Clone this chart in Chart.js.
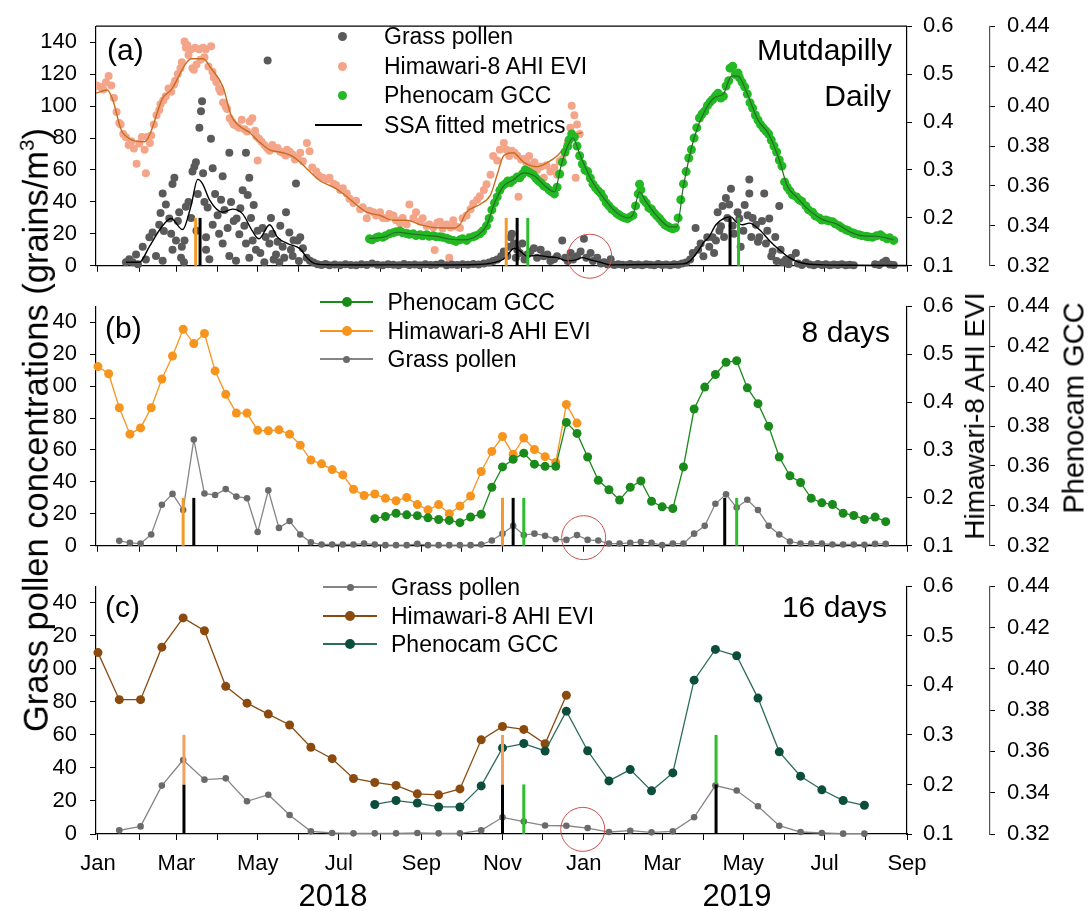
<!DOCTYPE html>
<html>
<head>
<meta charset="utf-8">
<script src="https://cdn.jsdelivr.net/npm/chart.js@4.4.1/dist/chart.umd.min.js"></script>
<style>
  body { margin: 0; background: #fff; }
  #wrap { position: relative; width: 1089px; height: 911px; overflow: hidden;
          font-family: Arial, "Liberation Sans", sans-serif; color: #000; }
  #wrap canvas { position: absolute; left: 0; }
</style>
</head>
<body>
<div id="wrap">
  <canvas id="pa" width="1089" height="292" style="top:0px"></canvas>
  <canvas id="pb" width="1089" height="292" style="top:280px"></canvas>
  <canvas id="pc" width="1089" height="351" style="top:560px"></canvas>
</div>
<script>
// Grass pollen vs Himawari-8 EVI vs Phenocam GCC at Mutdapilly
// x values are days counted from 1 Jan 2018

// ---- axis ticks ----
const monthDays = [0, 31, 59, 90, 120, 151, 181, 212, 243, 273, 304, 334, 365, 396, 424, 455, 485, 516, 546, 577, 608];
const monthLabels = ['Jan', '', 'Mar', '', 'May', '', 'Jul', '', 'Sep', '', 'Nov', '', 'Jan', '', 'Mar', '', 'May', '', 'Jul', '', 'Sep'];
const pollenTicks = [0, 20, 40, 60, 80, 100, 120, 140];
const eviTicks = [0.1, 0.2, 0.3, 0.4, 0.5, 0.6];
const gccTicks = [0.32, 0.34, 0.36, 0.38, 0.40, 0.42, 0.44];

// ---- (a) daily ----
const eviDay = [-1,2,4,6,8,10,12,14,16,17, 19,21,23,25,27,29,31,33,35,36, 37,39,40,42,44,46,47,49,51,53,
  55,57,58,60,62,63,65,66,67,68, 70,71,72,73,74,76,77,79,80,81, 83,85,86,87,89,91,92,94,96,97,
  99,101,102,104,106,108,110,112,114,116, 118,119,120,121,123,125,127,129,131,133, 135,137,139,141,142,144,146,148,150,152,
  154,157,159,161,164,166,169,172,174,177, 179,182,184,187,189,192,194,197,199,202, 204,207,209,212,214,217,219,222,224,227,
  229,232,234,237,239,242,244,247,249,252, 253,255,257,259,262,264,265,267,269,272, 274,277,280,282,285,287,290,292,295,297,
  300,302,305,307,309,311,313,315,316,318, 320,322,324,326,328,330,333,335,337,340, 343,345,347,349,351,353,355,356,358,359, 360,362];
const eviVal = [.476,.473,.468,.483,.496,.476,.450,.421,.398,.395, .375,.368,.352,.360,.345,.313,.355,.369,.342,.293, .369,.356,.372,.395,.414,.425,.437,.445,.454,.470,
  .463,.478,.486,.500,.512,.525,.568,.555,.561,.540, .552,.512,.509,.555,.520,.552,.530,.555,.535,.552, .516,.558,.505,.493,.483,.470,.463,.441,.432,.427,
  .408,.400,.395,.392,.388,.405,.385,.380,.401,.408, .382,.370,.320,.365,.359,.352,.346,.340,.352,.345, .346,.338,.336,.330,.342,.338,.333,.322,.326,.336,
  .318,.356,.339,.305,.297,.288,.284,.280,.284,.271, .268,.258,.262,.251,.240,.231,.236,.218,.222,.199, .215,.212,.205,.212,.200,.199,.208,.205,.195,.189,
  .200,.186,.228,.200,.212,.192,.199,.183,.186,.180, .133,.190,.192,.178,.186,.117,.180,.195,.182,.179, .199,.205,.218,.230,.238,.245,.258,.270,.290,.329,
  .320,.342,.356,.342,.329,.340,.336,.330,.244,.322, .323,.315,.329,.310,.316,.300,.307,.284,.310,.297, .305,.290,.318,.323,.336,.356,.388,.434,.414,.284, .395,.375];

const gccDay = [204,206,209,211,214,216,219,222,224,227, 229,232,234,237,239,242,244,247,249,252, 254,257,259,262,264,267,269,272,274,277,
  279,282,284,287,289,292,294,296,298,300, 302,304,306,308,310,312,315,317,319,321, 323,325,327,329,331,333,335,337,339,341,
  343,345,347,349,351,353,354,356,358,360, 362,364,366,368,370,372,374,376,378,380, 382,384,386,388,390,392,394,396,398,400,
  402,404,406,407,408,410,412,414,416,418, 420,422,424,426,428,430,432,434,436,438, 440,442,444,446,448,450,452,454,456,458,
  460,462,464,466,468,470,472,474,475,477, 479,481,482,484,486,488,490,492,494,496, 498,500,502,504,506,508,510,512,514,516,
  518,520,522,525,527,529,532,534,537,539, 542,544,547,549,552,554,557,559,562,564, 567,569,572,574,577,579,582,585,588,590, 593,595,598];
const gccVal = [.3335,.3330,.3340,.3345,.3343,.3350,.3360,.3366,.3370,.3374, .3365,.3362,.3358,.3360,.3352,.3355,.3350,.3356,.3348,.3351,
  .3346,.3345,.3343,.3338,.3332,.3327,.3322,.3330,.3335,.3327, .3340,.3345,.3351,.3360,.3374,.3400,.3437,.3480,.3515,.3545,
  .3578,.3600,.3610,.3625,.3617,.3630,.3645,.3641,.3660,.3680, .3672,.3665,.3656,.3640,.3625,.3615,.3600,.3594,.3580,.3570,
  .3560,.3594,.3660,.3719,.3770,.3798,.3830,.3860,.3845,.3800, .3751,.3710,.3680,.3672,.3640,.3609,.3590,.3575,.3562,.3540,
  .3515,.3500,.3484,.3475,.3462,.3453,.3445,.3440,.3437,.3445, .3453,.3500,.3560,.3609,.3580,.3531,.3515,.3490,.3484,.3465,
  .3450,.3437,.3420,.3405,.3398,.3390,.3385,.3390,.3440,.3531, .3610,.3672,.3740,.3782,.3840,.3892,.3940,.3960,.3975,.4002,
  .4020,.4033,.4050,.4064,.4040,.4049,.4100,.4127,.4190,.4200, .4158,.4165,.4143,.4120,.4096,.4060,.4017,.3990,.3955,.3930,
  .3907,.3890,.3875,.3860,.3830,.3800,.3770,.3730,.3700,.3620, .3594,.3575,.3555,.3545,.3530,.3523,.3500,.3480,.3468,.3450,
  .3440,.3429,.3430,.3425,.3421,.3410,.3400,.3390,.3380,.3375, .3366,.3360,.3355,.3351,.3348,.3345,.3343,.3350,.3355,.3345,
  .3335,.3340,.3327];

// daily grass pollen counts, [day, grains/m3]
const pollenDaily = [[21,2.2],[23.5,4.1],[26,2.2],[28.6,7.1],[30,1],[33.6,12],[36,4],[38.6,17.8],[41,20.8],[43.6,6.1],[46,25.7],[47,33],
  [48.6,45.3],[48.6,3.1],[49.5,21.8],[51,38.4],[53.6,29.6],[55,20],[56,51.2],[56,10],[57.4,55.1],[58.6,15.9],[60,28],[61,33.5],[62.4,5.1],
  [63,12],[64.6,2.2],[65,15.9],[66,37],[68,40],[70,30],[71,59],[72.4,62],[73.6,64.9],[74,22],[75,45],[76.2,86.5],[77.4,96.7],[78.2,103],
  [79,58],[80,40],[81.2,10],[81.2,17.8],[82.4,36.5],[83.7,4.1],[84.9,79.6],[86.2,61],[86.2,25.7],[88,45],[89.9,31.6],[91,20],[92.5,41.4],
  [93.7,56],[93.7,13.9],[95,35],[97.4,23.7],[98.7,70.8],[98.7,6.1],[100,40],[102,28],[103.7,3.1],[104.2,29.6],[106.2,19.8],[107,36],
  [108.7,47.3],[110,25],[111.2,70.8],[111.2,13.9],[112.5,44.3],[113.7,55.1],[113.7,5.1],[115,30],[116.2,15.9],[117,38],[118.7,10],[120,22],
  [122,8],[123.7,23.7],[125,2.2],[126,18],[127.5,128.6],[128.8,13.9],[130,30],[131,20],[132,4],[133.8,7.1],[135,15],[136.3,2.2],[137,25],
  [138.8,12],[140,5],[141.3,33.5],[143.8,20.8],[145,10],[146.3,6.1],[147,16],[148.8,51.6],[150,15.9],[151,3],
  [152,17.8],[154,11],[156.8,5.1],[159.3,3.1],[162,2],[165,1],[168,0.5],[171,1.2],[174,0.4],[178,0.8],[182,0.3],[186,1],[190,0.5],
  [194,0.4],[198,1],[202,0.5],[206,1.5],[210,0.6],[214,0.3],[218,1],[222,0.6],[226,0.4],[230,1.2],[234,0.5],[238,0.8],[242,0.3],[246,1],
  [250,0.5],[254,0.6],[258,1.4],[262,0.4],[266,0.8],[270,0.5],[274,1],[278,0.6],[282,1.2],[286,0.8],[290,1.5],[294,2],[297,3],[300,4],[303,6],
  [305,9],[307.6,6.1],[309,12],[310.1,17.8],[311,20],[312.6,13.9],[314,5],[315.1,10],[317,8],[318.9,13.9],[320.5,4],[322.6,7.1],[325,9],
  [327.6,11],[330,5],[332.7,10],[335,6],[337.7,7.1],[340,3],[342.7,4.1],[345,6],[348.9,15.9],[351,5],[353,3],[355.2,8],[357,4],[360,6],
  [362.7,9],[365.2,16.9],[367,5],[370.2,8],[372,3],[375.2,5.1],[378,1.5],[380.3,2.2],[383,0.8],[385.3,4.1],[388,0.5],[391,1],[394,0.6],
  [397,0.4],[400,1.2],[403,0.5],[406,0.8],[409,0.3],[412,1],[415,0.6],[418,0.4],[421,1.2],[424,0.5],[427,0.8],[430,0.4],[433,1],[436,0.6],
  [439,1.5],[442,2],[445,4],[447,8],[449.1,23.7],[451,10],[452.9,13.9],[455,6],[457.9,17.8],
  [459.4,12],[461.9,17.8],[463,8],[464.4,15.9],[465.7,33.5],[467,22],[468.2,24.7],[469.4,37.5],[470.5,18],[471.9,42.4],[473,30],[474.4,38.4],
  [475.7,48.2],[477,25],[478,20],[480.7,33.5],[482,29.6],[483,12],[485,22],[486,38],[488.2,31.6],[489.5,54.1],[489.5,45.3],[491,18],[492,30],
  [494.5,25.7],[496,15],[497,17.8],[499,28],[500.7,45.3],[502,13.9],[503,22],[504.5,29.6],[506,6],[507,9],[509,18],[510,3],[512,37.5],
  [513,10],[514.5,2.2],[517,4],[519,1],[521,5],[524.5,8],[526,1.5],[529,0.5],[532,2],[535,0.8],[538,0.4],[541,1.2],[544,0.5],[547,1],
  [550,0.3],[553,0.8],[556,0.5],[559,1],[562,0.4],[565,0.6],[568,0.3],[584,1],[587,0.5],[590,2],[592.2,3.1],[595,0.8],[598,0.5]];

// SSA fitted curves, [day, value]
const eviSSA = [[-1.5,.460],[7,.467],[11,.447],[18.5,.378],[35,.359],[38.6,.372],[48.6,.450],[55,.467],[66,.522],[70,.532],[79,.532],
  [85,.512],[94,.473],[100,.414],[106,.392],[114,.378],[121,.359],[129,.342],[139,.336],[146,.329],[152,.316],[159,.297],[167,.277],
  [177,.264],[184,.251],[194,.228],[202,.212],[212,.205],[222,.195],[232,.195],[242,.186],[252,.180],[260,.179],[267,.179],[272,.186],
  [277,.212],[287,.228],[295,.248],[300,.290],[305,.330],[312,.336],[320,.316],[330,.307],[338,.316],[345,.329],[353,.356],[358,.372],[364,.378]];
const gccSSA = [[204,.3337],[215,.3345],[225,.3368],[235,.3360],[245,.3353],[255,.3347],[265,.3333],[275,.3330],[285,.3352],[292,.3400],
  [298,.3515],[305,.3600],[312,.3630],[320,.3665],[328,.3650],[336,.3600],[343,.3570],[348,.3700],[353,.3800],[357,.3840],[362,.3760],
  [370,.3640],[380,.3540],[390,.3465],[398,.3440],[402,.3455],[407,.3570],[412,.3520],[420,.3450],[430,.3395],[435,.3395],[440,.3600],
  [448,.3840],[456,.3975],[464,.4045],[470,.4060],[476,.4150],[481,.4150],[488,.4060],[496,.3930],[504,.3860],[512,.3730],[518,.3600],
  [525,.3545],[535,.3475],[545,.3430],[555,.3410],[565,.3370],[575,.3350],[585,.3348],[598,.3330]];
const pollenSSA = [[21,2.2],[31,2.2],[38.6,12],[47.3,23.7],[54.9,29.6],[63.6,22.7],[69.9,37.5],[74.9,54.1],[78.7,51.2],[83.7,41.4],
  [93.7,33.5],[101,35.5],[108.7,32.5],[116,21.8],[121,16.9],[129,25.7],[135,17.8],[142.5,13.9],[149,12],[152.6,10],[157,5.1],[164,1.2],
  [175,0.6],[200,0.5],[230,0.6],[260,0.5],[285,0.8],[292,1.2],[302,3.1],[306,5.1],[309,8],[312.6,11],[316,10],[322.6,6.1],[330,6.5],
  [337.7,5.7],[345,5.1],[352.7,3.1],[359,3.7],[364,5.1],[370,3.7],[377.7,2.2],[385,0.6],[410,0.8],[440,1.2],[445,3.1],[451.6,10],
  [455.4,14.9],[459,17.8],[464.4,25.7],[471.9,30.2],[475.7,30.6],[479.4,27.6],[484.5,25.7],[489.5,26.7],[497,22.7],[504.5,15.9],[512,10],
  [519.5,5.1],[527,2.2],[534.6,1],[544.6,0.6],[570,0.3],[608,0.2]];

// ---- (b) 8-day composites (first composite day, then one value per 8 days) ----
const evi8Start = 0;
const evi8 = [.474,.459,.388,.333,.346,.388,.448,.496,.552,.522,.543,.465,.416,.377,.377,.341,.340,.342,.333,.310,.279,.271,.259,.248,
  .218,.205,.208,.199,.194,.201,.186,.175,.186,.167,.183,.204,.255,.297,.328,.291,.325,.301,.286,.274,.395,.356];
const pollen8Start = 16;
const pollen8 = [3.1,1.8,1.4,7.1,25.7,32.5,22.4,66.5,32.7,31.8,35.5,30.8,29.8,8.6,34.7,11.2,15.5,7.1,2.2,0.8,0.8,0.8,0.8,1.4,0.8,
  0.4,0.4,0.4,1.2,0.4,0.4,0.4,0.4,0.4,0.8,3.3,7.6,12.5,6.7,7.6,6.3,4.1,3.7,6.7,3.7,3.3,1.4,1.4,1.8,2.4,1.8,0.4,1.4,1.4,7.6,12.5,
  26.3,32.2,23.9,28.8,22.4,12.5,7.1,2.7,1.4,1.4,1.4,0.8,0.8,0.8,0.6,1.2,1.2];
const gcc8Start = 208;
const gcc8 = [.3336,.3347,.3363,.3355,.3351,.3340,.3332,.3327,.3316,.3344,.3358,.3493,.3595,.3633,.3664,.3609,.3598,.3598,.3818,.3763,
  .3645,.3528,.3481,.3429,.3493,.3525,.3423,.3395,.3387,.3595,.3885,.3995,.4058,.4119,.4127,.3991,.3912,.3799,.3645,.3551,.3517,
  .3438,.3415,.3407,.3363,.3352,.3332,.3344,.3321];

// ---- (c) 16-day composites ----
const evi16Start = 0;
const evi16 = [.466,.371,.371,.477,.536,.510,.398,.364,.342,.320,.275,.252,.212,.204,.198,.181,.179,.191,.290,.317,.311,.282,.380];
const pollen16Start = 16;
const pollen16 = [2.2,4.6,29.3,44.8,32.9,33.7,19.8,23.8,11.5,1.6,0.6,0.4,0.4,0.4,0.6,0.4,0.4,2.2,10.1,7.5,5.1,5.0,3.6,1.2,2.0,1.0,
  1.6,10.1,29.3,26.3,16.8,5.0,1.2,0.6,0.2,0.2];
const gcc16Start = 208;
const gcc16 = [.3343,.3362,.3350,.3331,.3331,.3433,.3617,.3638,.3602,.3795,.3603,.3457,.3512,.3409,.3496,.3945,.4094,.4063,.3858,
  .3598,.3480,.3414,.3362,.3339];

// ---- phenology markers (days) and their extent on the pollen axis ----
const lowBar = [0, 30];
const highBar = [30, 60];
const markA = { evi: [73.4, 306.8], pollen: [76.7, 315, 475], gcc: [323, 481.4] };
const markB = { evi: [64, 304], pollen: [72, 312, 471], gcc: [320, 480] };
const markC = { pollen: [64.6, 304, 464.5], eviHigh: [64.6, 304], gccLow: [320], gccHigh: [464.5] };

// red circles: [day, pollen value] per panel
const circleAt = [[369.5, 6], [365, 5.1], [364.3, 2.8]];

// ---------------------------------------------------------------
const FONT = 'Arial, "Liberation Sans", sans-serif';
const tickFont = { family: FONT, size: 22 };

function toPts(days, vals) { return days.map((d, i) => ({ x: d, y: vals[i] })); }
function stepPts(start, step, vals) { return vals.map((v, i) => ({ x: start + i * step, y: v })); }
function pairPts(pairs) { return pairs.map(p => ({ x: p[0], y: p[1] })); }

function dots(data, color, r, axis, clip) {
  return { data, yAxisID: axis, showLine: false, pointRadius: r, pointBackgroundColor: color,
           pointBorderWidth: 0, borderColor: color, clip: clip ? false : undefined };
}
function smooth(data, color, w, axis) {
  return { data, yAxisID: axis, borderColor: color, borderWidth: w, pointRadius: 0,
           cubicInterpolationMode: 'monotone', clip: false };
}
function series(data, color, lineColor, r, w, axis) {
  return { data, yAxisID: axis, borderColor: lineColor, borderWidth: w, pointRadius: r,
           pointBackgroundColor: color, pointBorderWidth: 0, clip: false };
}
function bars(days, range, color) {
  return days.map(d => ({ data: [{ x: d, y: range[0] }, { x: d, y: range[1] }], yAxisID: 'y',
    borderColor: color, borderWidth: 3, pointRadius: 0, borderCapStyle: 'butt', clip: false }));
}

function makeScales(showMonths, clipHundreds, xHeight) {
  return {
    x: {
      type: 'linear', min: -1.5, max: 608,
      afterBuildTicks: ax => { ax.ticks = monthDays.map(v => ({ value: v })); },
      afterFit: ax => { ax.height = xHeight; },
      ticks: { display: showMonths, autoSkip: false, maxRotation: 0, minRotation: 0, padding: 11,
               color: '#000', font: tickFont, callback: (v, i) => monthLabels[i] },
      grid: { drawOnChartArea: false, drawTicks: true, tickLength: 6, color: '#000' },
      border: { color: '#000', width: 1.2 }
    },
    y: {
      position: 'left', min: 0, max: 150,
      afterBuildTicks: ax => { ax.ticks = pollenTicks.map(v => ({ value: v })); },
      afterFit: ax => { ax.width = 96; },
      ticks: { padding: 13, color: '#000', font: tickFont,
               callback: v => (clipHundreds && v >= 100) ? String(v).slice(1) : String(v) },
      grid: { drawOnChartArea: false, tickLength: 6, color: '#000' },
      border: { color: '#000', width: 1.2 }
    },
    evi: {
      position: 'right', weight: 0, min: 0.1, max: 0.6,
      afterBuildTicks: ax => { ax.ticks = eviTicks.map(v => ({ value: v })); },
      afterFit: ax => { ax.width = 83; },
      ticks: { padding: 11, color: '#000', font: tickFont, callback: v => v.toFixed(1) },
      grid: { drawOnChartArea: false, tickLength: 5, color: '#000' },
      border: { color: '#000', width: 1.2 }
    },
    gcc: {
      position: 'right', weight: 1, min: 0.32, max: 0.44,
      afterBuildTicks: ax => { ax.ticks = gccTicks.map(v => ({ value: v })); },
      afterFit: ax => { ax.width = 99; },
      ticks: { padding: 12, color: '#000', font: tickFont, callback: v => v.toFixed(2) },
      grid: { drawOnChartArea: false, tickLength: 5, color: '#000' },
      border: { color: '#555', width: 1.2 }
    }
  };
}

const redCircle = {
  id: 'redCircle',
  afterDatasetsDraw(chart, args, opts) {
    const ctx = chart.ctx;
    const cx = chart.scales.x.getPixelForValue(opts.at[0]);
    const cy = chart.scales.y.getPixelForValue(opts.at[1]);
    ctx.save();
    ctx.strokeStyle = '#c8524c';
    ctx.lineWidth = 1;
    ctx.beginPath();
    ctx.arc(cx, cy, 22, 0, Math.PI * 2);
    ctx.stroke();
    ctx.restore();
  }
};
const frameTop = {
  id: 'frameTop',
  afterDraw(chart, args, opts) {
    if (!opts.show) return;
    const a = chart.chartArea, ctx = chart.ctx;
    ctx.save();
    ctx.strokeStyle = '#000';
    ctx.lineWidth = 1.2;
    ctx.beginPath();
    ctx.moveTo(a.left, a.top);
    ctx.lineTo(a.right, a.top);
    ctx.stroke();
    ctx.restore();
  }
};

function makeChart(id, datasets, pad, scales, circle, top) {
  return new Chart(document.getElementById(id), {
    type: 'line',
    data: { datasets },
    options: {
      responsive: false, animation: false, events: [],
      layout: { padding: { top: pad[0], bottom: pad[1], left: 0, right: 0 } },
      plugins: { legend: { display: false }, tooltip: { enabled: false },
                 redCircle: { at: circle }, frameTop: { show: top } },
      scales
    },
    plugins: [redCircle, frameTop]
  });
}

// colours
const C = {
  pollenDot: '#5a5a5a', eviDot: '#f4a589', gccDot: '#22b922',
  eviSSA: '#c66d1e', gccSSA: '#2a6a2a', pollenSSA: '#000',
  orange: '#f7941d', green8: '#1a8a1a', grey8: '#6a6a6a', greyLine: '#858585',
  brown: '#8b4a0e', teal: '#0c4e3c', tealLine: '#2c6b5c',
  barOrange: '#f39a2a', barOrangeC: '#f2a05e', barGreen: '#2dbd2d', barBlack: '#000'
};

// ---- panel (a) ----
makeChart('pa', [
  ...bars(markA.evi, lowBar, C.barOrange),
  ...bars(markA.pollen, lowBar, C.barBlack),
  ...bars(markA.gcc, lowBar, C.barGreen),
  smooth(pairPts(pollenSSA), C.pollenSSA, 1.4, 'y'),
  dots(pairPts(pollenDaily), C.pollenDot, 4, 'y', true),
  smooth(pairPts(gccSSA), C.gccSSA, 1.2, 'gcc'),
  dots(toPts(gccDay, gccVal), C.gccDot, 4.5, 'gcc'),
  smooth(pairPts(eviSSA), C.eviSSA, 1.4, 'evi'),
  dots(toPts(eviDay, eviVal), C.eviDot, 4, 'evi')
], [22, 2], makeScales(false, false, 13), circleAt[0], true);

// ---- panel (b) ----
makeChart('pb', [
  ...bars(markB.evi, lowBar, C.barOrange),
  ...bars(markB.pollen, lowBar, C.barBlack),
  ...bars(markB.gcc, lowBar, C.barGreen),
  series(stepPts(pollen8Start, 8, pollen8), C.grey8, C.greyLine, 3.3, 1.3, 'y'),
  series(stepPts(gcc8Start, 8, gcc8), C.green8, C.green8, 4.5, 1.3, 'gcc'),
  series(stepPts(evi8Start, 8, evi8), C.orange, C.orange, 4.5, 1.3, 'evi')
], [23, 2], makeScales(false, true, 12), circleAt[1], false);

// ---- panel (c) ----
makeChart('pc', [
  ...bars(markC.eviHigh, highBar, C.barOrangeC),
  ...bars(markC.pollen, lowBar, C.barBlack),
  ...bars(markC.gccLow, lowBar, C.barGreen),
  ...bars(markC.gccHigh, highBar, C.barGreen),
  series(stepPts(pollen16Start, 16, pollen16), C.grey8, C.greyLine, 3.3, 1.3, 'y'),
  series(stepPts(gcc16Start, 16, gcc16), C.teal, C.tealLine, 4.5, 1.3, 'gcc'),
  series(stepPts(evi16Start, 16, evi16), C.brown, C.brown, 4.5, 1.3, 'evi')
], [20, 0], makeScales(true, true, 77), circleAt[2], false);

// ---- text, legends and titles ----
const wrap = document.getElementById('wrap');
function addDiv(css, html) {
  const d = document.createElement('div');
  d.style.cssText = 'position:absolute;white-space:nowrap;line-height:1;' + css;
  if (html != null) d.innerHTML = html;
  wrap.appendChild(d);
  return d;
}
function legendRow(x0, x1, xd, xt, y, line, dot, r, label) {
  if (line) addDiv(`left:${x0}px;top:${y - 0.7}px;width:${x1 - x0}px;height:1.4px;background:${line}`);
  if (dot) addDiv(`left:${xd - r}px;top:${y - r}px;width:${2 * r}px;height:${2 * r}px;border-radius:50%;background:${dot}`);
  addDiv(`left:${xt}px;top:${y - 11.5}px;font-size:23px`, label);
}

legendRow(0, 0, 342, 384, 36, null, C.pollenDot, 4.5, 'Grass pollen');
legendRow(0, 0, 342, 384, 66, null, C.eviDot, 4.5, 'Himawari-8 AHI EVI');
legendRow(0, 0, 342, 384, 95, null, C.gccDot, 4.5, 'Phenocam GCC');
legendRow(315, 362, 0, 384, 125, '#000', null, 0, 'SSA fitted metrics');

legendRow(320, 373, 346.5, 387.5, 302, C.green8, C.green8, 5, 'Phenocam GCC');
legendRow(320, 373, 346.5, 387.5, 331, C.orange, C.orange, 5, 'Himawari-8 AHI EVI');
legendRow(320, 373, 346.5, 387.5, 359, C.greyLine, C.grey8, 3.5, 'Grass pollen');

legendRow(323, 377, 350, 391, 587, C.greyLine, C.grey8, 3.5, 'Grass pollen');
legendRow(323, 377, 350, 391, 616, C.brown, C.brown, 5, 'Himawari-8 AHI EVI');
legendRow(323, 377, 350, 391, 644, C.tealLine, C.teal, 5, 'Phenocam GCC');

addDiv('left:107px;top:35px;font-size:30px', '(a)');
addDiv('left:105px;top:313px;font-size:30px', '(b)');
addDiv('left:105px;top:592px;font-size:30px', '(c)');
addDiv('right:197px;top:35px;font-size:30px', 'Mutdapilly');
addDiv('right:198px;top:81px;font-size:30px', 'Daily');
addDiv('right:199px;top:317px;font-size:30px', '8 days');
addDiv('right:202px;top:592px;font-size:30px', '16 days');
addDiv('left:333px;top:880px;font-size:31px;transform:translateX(-50%)', '2018');
addDiv('left:737px;top:880px;font-size:31px;transform:translateX(-50%)', '2019');

addDiv('left:36px;top:430px;font-size:34.5px;transform:translate(-50%,-50%) rotate(-90deg)',
  'Grass pollen concentrations (grains/m<span style="font-size:0.6em;position:relative;top:-0.7em">3</span>)');
addDiv('left:975px;top:416px;font-size:28px;transform:translate(-50%,-50%) rotate(-90deg)', 'Himawari-8 AHI EVI');
addDiv('left:1074px;top:408px;font-size:29px;transform:translate(-50%,-50%) rotate(-90deg)', 'Phenocam GCC');
</script>
</body>
</html>
